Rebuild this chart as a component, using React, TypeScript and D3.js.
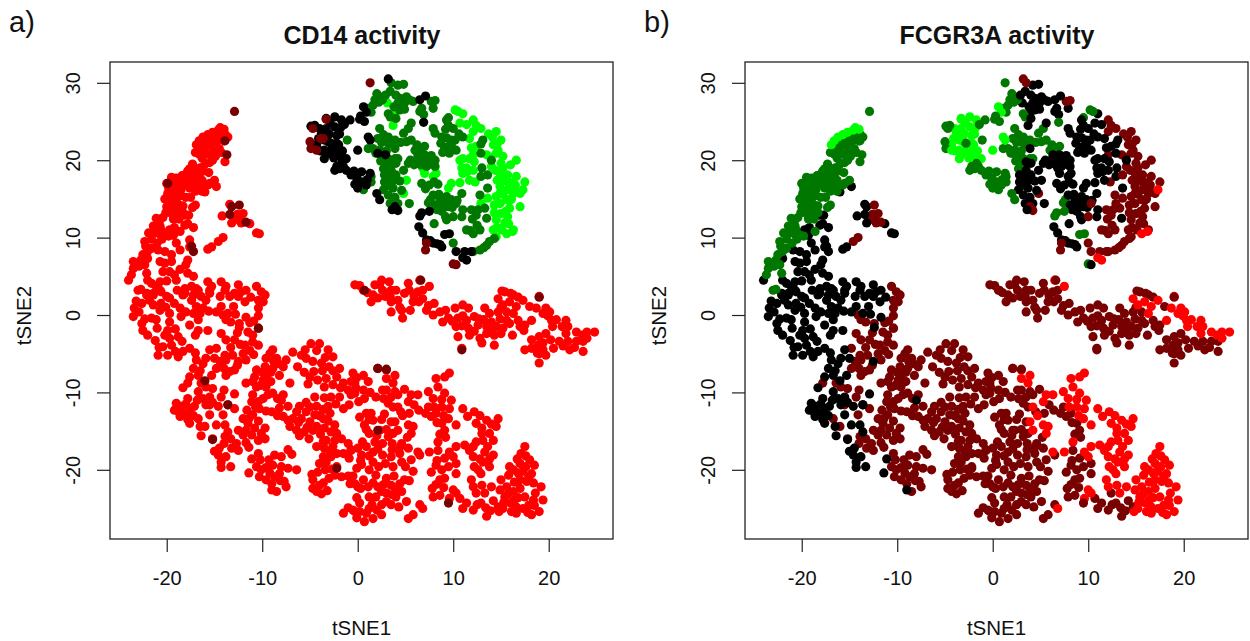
import React, { useEffect, useRef } from 'react';
import * as d3 from 'd3';

// tSNE coordinates, split by (CD14 level, FCGR3A level)
// levels: r = red, d = dark red, k = black, g = dark green, b = bright green
const redBright = [[-14,24],[-14.6,23.9],[-15.2,23.6],[-15.7,23.3],[-16.6,22.5],[-16.9,22],[-16.2,23],[-14.4,24.2]];
const redGreen = [[-13.9,23.4],[-14.3,23.3],[-14.8,23.2],[-15.2,23],[-15.7,22.8],[-16.2,22.4],[-13.6,23],[-14,22.5],[-14.6,22.6],[-15,22.3],[-15.5,22],[-16,21.8],[-16.5,21.5],[-17,21],[-14.5,21.5],[-15.2,21.2],[-15.8,20.8],[-16.3,20.3],[-14.9,20.5],[-15.5,19.7],[-16,19.5],[-14.3,21],[-13.9,19.8],[-16.6,20.8],[-15.2,20],
  [-17.3,19.5],[-17.6,18.9],[-18,18.2],[-17.4,18.2],[-16.8,18.4],[-16.2,18.6],[-15.6,18.4],[-18.1,17.5],[-17.5,17.4],[-16.9,17.6],[-16.3,17.4],[-17,16.8],[-16.4,16.5],[-15.7,16.8],[-17,16],[-16.3,16],[-15.5,17],[-15,17.4],
  [-19.5,17.8],[-19,17.7],[-20,17],[-19.4,17],[-18.8,16.8],[-18.5,16.2],[-19.2,16.2],[-19.9,15.7],[-19.3,15.6],[-20.2,15],[-19.6,14.8],[-19,14.7],[-20,14],[-19.4,14],[-18.7,14.2],[-18.3,14.1],[-20.1,13.2],[-19.5,13.1],[-18.9,13.3],[-18.3,13.2],[-19.3,12.4],[-18.7,12.4],[-18,15.2],[-17.5,15.2],[-17.3,13.9],[-17,14.2],
  [-21.1,12.5],[-21.4,11.5],[-20.7,11.5],[-21.9,10.6],[-21.3,10.6],[-20.7,10.4],[-20.5,9.8],[-20.1,10.3],[-22.3,9.5],[-21.6,9.8],[-21.6,8.6],[-22,8.2],[-22.5,7.8],[-22.7,7.1],[-22.3,6.5],[-22.1,5.4],[-23.5,6.9],[-23.5,6],[-23.7,5.2],[-23,3.2],[-22.7,3.3],[-19.8,10.2],[-18.6,10.8],[-20.6,11],[-21,9.3],
  [-17.8,18.6],[-17.1,19],[-16.5,19],[-18.4,18],[-16.6,17.9],[-18.7,17.2],[-18,16.9],[-17.6,16.4],[-19.8,16.4],[-19.7,13.7],[-19.1,15.1],[-18.6,15.4],[-19,13.8],[-20.8,12],[-20.4,12.6],[-21,10.9],[-22.2,8.9],[-22.9,6.3]];
const redBlack = [[-18.2,12.9],[-17.7,12.9],[-17.8,11.8],[-17.2,11.3],[-18.1,11.6],[-19.2,11.3],[-19.7,11],[-17.6,9.7],[-19,9.3],[-18.6,8.4],[-17.6,8.8],[-19.3,10.3],[-20.9,8.4],[-20.2,8.2],[-19.5,7.8],[-20.7,6.9],[-20.2,6.7],[-19.5,6.9],[-17.8,7.1],[-18,6.5],[-22,7.3],[-19.7,5.6],[-20.4,5.6],[-18.6,5.9],[-17.8,5.4],[-17.2,5],[-19.2,5.2],[-19,4.5],[-22,4.5],[-21.6,4.1],[-20.7,4.3],[-20,4.4],[-21.1,3.7],[-24,4.5],[-22.1,2.8],[-21.4,2.6],[-20.6,3],[-18.1,3.4],[-17.4,3.7],[-16.9,3.4],[-18.3,2.6],[-17.2,2.6],[-15.7,4.3],[-15.3,3.7],[-14.3,4.3],[-13.8,3.7],[-12.5,3.9],[-12.9,2.8],[-12.2,3],[-15.5,2.8],[-13.4,2.4],[-11.7,3.2],
  [-14.8,16.6],[-16,15.9],[-13.4,14.3],[-14.2,12.8],[-13.2,11.9],[-11.3,11.8],[-10.6,10.6],[-10.3,10.5],[-15.3,8.8],[-15.7,8.5],
  [-23.5,-0.2],[-23.4,0.9],[-23.2,1.8],[-22.6,1.5],[-22.1,2.6],[-21.4,2.8],[-20.7,3.2],[-20,2.4],[-19.7,2.2],[-21.4,1.3],[-20.6,1.5],[-20.7,0.6],[-21.6,-0.4],[-21.1,-0.6],[-19.2,1.5],[-18.6,0.9],[-19.7,0.2],[-19.7,-0.9],[-18.5,-0.2],[-18.1,2.8],[-17.4,1.9],[-16.9,1.1],[-16.5,0.2],[-16.7,-0.6],[-17.6,-1.3],[-16.2,0.9],[-15.9,1.9],[-16.7,3.2],[-15.5,3.2],[-14.8,0.4],[-14.3,1.1],[-13.9,3.2],[-13,1.1],[-11.8,1.7],[-11.7,-0.3],[-12.5,2.4],[-22.6,-1.1],[-22.5,-2],[-22,-2.6],[-20.2,-2.6],[-19.9,-2],[-19.7,-3],[-19.5,-3.9],[-20.4,-4.1],[-20.9,-5.2],[-19.9,-5.2],[-18.8,-5.4],[-18.4,-3.4],[-18.3,-4.7],[-17.6,-4.3],[-16.7,-2],[-15.7,-2],[-16.9,-5.8],[-15.9,-5.6],[-15.5,-4.5],[-15,-5.6],[-17.2,-6.9],[-16.7,-7.8],[-17.6,-8],[-15.3,-7.8],[-18.3,-9.4],[-16.7,-9.9],[-17.8,-10.8],[-19,-11.4],[-19.2,-12.3],[-18.5,-11.8],[-18.6,-13.1],[-17.6,-14],[-17.6,-12.1],[-16.2,-10.8],[-15.5,-10.6],[-14.6,-11.8],[-15.5,-12.9],[-13.6,-11.6],[-12.9,-10.2],[-16.5,-14.4],[-16.4,-15.6],[-14.8,-14.2],[-13.9,-14.2],[-13.6,-15.1],[-14.5,-17.2],[-14.6,-18.1],[-14.3,-19],[-13.8,-18.3],[-13.3,-19.6],[-11.1,-18.6],[-11.4,-20.4],[-9,-22.6],[-8,-11],[-12.5,-6],[-12.4,-1.6],[-18,-12.7],[-17.1,-11.8],[-18.1,-12.9],
  [-22.9,0.4],[-22.3,-0.5],[-21.8,1.9],[-20.1,1],[-21,-1.7],[-19.1,-1.8],[-18.8,-2.8],[-18,0.4],[-17.2,0.2],[-17,-2.6],[-15.6,0.5],[-13.6,0.2],[-12.8,0.1],[-14.4,2.4],[-11.2,2.3],[-16.4,2.4],[-18.9,3.2],[-21.2,-3.3],[-20.8,-4.2],[-19.1,-4.7],[-17,-4.9],[-16.2,-6.3],[-16.5,-7.2],[-18.7,-12.6],[-18,-11.5],[-17.2,-13],[-16.8,-11],[-15.9,-11.6],[-15.2,-11.3],[-17.8,-13.5],[-14.3,-19.7],[-15,-17.6]];
const redDark = [[-12.9,12.3],[-12.4,12.5],[-12,13.1],[-14.1,10],[-14.6,9.5],[-12.6,13],[-12.2,11.9],
  [-10.6,3.7],[-10.1,3],[-9.7,2.6],[-10.4,1.9],[-9.9,1.7],[-10.4,0.9],[-10.4,-0.1],[-14.1,0],[-13.8,-0.6],[-12.4,-1.1],[-10.4,-1.7],[-11.5,-2.2],[-14.3,-2.4],[-13.8,-3.2],[-12.9,-3.2],[-11,-2.6],[-11,-3.5],[-11.8,-3.9],[-10.4,-3.9],[-14.8,-4.3],[-12,-5],[-13.1,-5.2],[-13.9,-5.2],[-13.8,-5.8],[-11.7,-5.8],[-14.8,-6.9],[-14,-6.9],[-12.9,-7.1],[-13.8,-7.8],[-8.9,-4.5],[-9.6,-5.6],[-8.5,-5.6],[-7.5,-5.8],[-9.7,-6.7],[-10.6,-7.1],[-8.9,-6.9],[-7.8,-6.7],[-8.2,-7.8],[-9.6,-7.8],[-10.8,-8],[-9.9,-8.4],[-11.7,-8.8],[-10.6,-9.3],[-9.6,-9.3],[-7.1,-8.8],[-8.9,-10.1],[-7.8,-10.3],[-11,-10.3],[-9.9,-10.8],[-11.1,-11.2],[-7.3,-11.8],[-10.3,-12.1],[-9,-12.5],[-11,-12.9],[-12,-13.4],[-11.5,-14],[-12.5,-14.9],[-11.7,-14.9],[-11.1,-15.5],[-9.7,-14.6],[-9.7,-16],[-10.4,-16.2],[-12.7,-16.6],[-14,-16.6],[-15.2,-16],[-13.2,-17.2],[-12.5,-17.5],[-10.4,-17.9],[-8.7,-18.1],[-7.3,-17.4],[-8.9,-19.4],[-8,-19.6],[-7.3,-19.8],[-6.4,-20],[-10.6,-19.6],[-10.3,-20.9],[-9.6,-21.3],[-8.7,-20.9],[-7.7,-21.5],[-7.5,-22.2],[-8.5,-22.8],[-16,-14.4],[-16.7,-13.4],[-14.1,-12.9],[-12.9,-12.1],[-14.3,-10.6],[-15.5,-11.6],[-17.8,-8.8],[-16.4,-8.8],[-15.2,-9.5],[-14,-9.7],[-15.9,-9.3],
  [-6.8,-4.8],[-4.9,-3.7],[-4,-3.7],[-3.1,-4.5],[-5.4,-5.6],[-4.7,-6],[-3.8,-6.2],[-3,-6.7],[-6.3,-6.7],[-1.9,-6.9],[-5,-8],[-4.2,-8.4],[-3.3,-8.2],[-2.2,-8],[-3.5,-9.3],[-1.5,-8.8],[-1,-9.7],[-0.3,-10.1],[-1.9,-10.6],[-0.9,-11.6],[-1.5,-12.1],[-4.5,-10.6],[-4.3,-11.8],[-3.1,-11.8],[-6.1,-11.8],[-5.4,-12.5],[-4.5,-12.9],[-3.6,-13.4],[-2.9,-12.7],[-7.8,-13.1],[-6.8,-13.4],[-5.9,-13.4],[-5,-13.8],[-7.1,-14.4],[-6.4,-14.9],[-5.6,-15.1],[-4.3,-14.4],[-3.5,-14.6],[-2.4,-14.2],[-2.2,-15.3],[-1.7,-16],[-3.3,-16.2],[-4.3,-17],[-3.5,-17.2],[-2.6,-17],[-1.5,-17.9],[-0.7,-17.4],[0,-17.2],[-3.6,-18.3],[-2.8,-18.3],[-4,-19.2],[-2.2,-19.6],[-4.2,-20.3],[-3,-21.1],[-1.7,-20.9],[-4.7,-21.3],[-4,-22],[-4.7,-22.4],[-3.8,-23.1],[-0.8,-21.8],[0,-22.2],[-1.5,-25.6],[-0.3,-25.4],
  [-0.3,3.9],[0.6,3.2],[1.8,3.9],[2.5,4.5],[3.3,4.3],[3.5,3.2],[1.6,2.6],[1.4,1.7],[2.6,3.2],[4.2,1.9],[3.5,1.7],[3.5,0.4],[4.6,0.6],[4.7,-0.4],[5.3,4.1],[5.4,3.2],[6.3,3],[6.8,3.2],[6.8,2.1],[5.8,1.7],[8,1.5],[7.2,0.6],[7.9,0],[8.6,0.4],[9.5,-0.4],[10.2,0.9],[11,1.3],[11.6,0.9],[10.5,-0.4],[10.3,-1.5],[11.4,-0.7],[12.2,-0.2],[11.6,-1.7],[12.6,-1.3],[13.5,-1.5],[10.5,-2.8],[10.9,-4.3],[11.7,-2.6],[12.8,-3],[13.5,-2.4],[14.3,-2.6],[14.3,-3.9],[13.8,0.2],[14.7,0.4],[14,-0.9],[15.2,-1.7],[14.5,-1.5],[15.6,0.4],[15.9,-1.1],[15.4,3],[16.3,2.6],[17,-1.5],[17.5,-1.3],[16.2,-2.6],[18,1.1],[17.5,-4.5],[18.2,-4.3],[18.9,-3.9],[19,-2.8],[19.7,-2.4],[19,-5],[19,-6.2],[19.7,-5.2],[20.5,-4.3],[21.1,-3.4],[22,-3.4],[22.2,-4.5],[22.9,-3.4],[23.6,-4.7],[23.6,-3.4],
  [-0.5,-7.5],[0.6,-7.8],[-0.3,-8.8],[0.6,-9.7],[-0.7,-10.3],[0.7,-10.8],[1.9,-10.6],[2.6,-9.7],[3.5,-10.6],[3.9,-9.9],[4.9,-9.6],[3.7,-11.9],[5.9,-11.6],[7.4,-11.9],[7.7,-13.1],[8.2,-12.7],[8.8,-14],[9.1,-14.9],[0.9,-12.7],[1.4,-12.7],[0.7,-14.2],[1.6,-13.6],[2.3,-14.9],[3.5,-13.8],[5.4,-12.7],[3.7,-15.3],[3.2,-15.7],[1.2,-15.3],[1.8,-16.4],[4.6,-16.6],[5.3,-17.2],[1.6,-17.7],[2.6,-18.1],[3.5,-18.3],[4.4,-17.9],[5.6,-18.7],[-0.7,-17.5],[1.6,-19],[3.7,-19.6],[-0.1,-19.8],[1.2,-20],[5.8,-20.2],[4.9,-21.3],[0.6,-21.3],[-0.3,-21.8],[3,-21.1],[1.1,-22.2],[2.1,-22.2],[3.5,-22],[4.4,-21.8],[1.9,-23.5],[3,-23],[4,-23.5],[5.1,-24.1],[1.2,-23.5],[2.5,-24.5],[3.5,-24.5],[0.2,-25.4],[0.9,-25.6],[1.6,-26.3],[0.7,-26.7],[-0.5,-25.2],[5.3,-26.3],[5.8,-25.8],[6.5,-24.5],[7.9,-23.5],[8.6,-23.3],[8.6,-21.3],[9.1,-21.1],[8.8,-20],[9.1,-18.5],[8.2,-19.4],[10.3,-20.5],[10.3,-19.2],[6.5,-18.1],[11.4,-24.3],[10.7,-23.7],[12.1,-25.2],[12.9,-24.3],[13.5,-26],[14.2,-24],[14.7,-24.8],[12.4,-23]];
const redDarkInner = [[-13.3,-0.9],[-12.6,-2.3],[-11.3,-1],[-10.9,-0.8],[-12.3,-3.8],[-13.3,-4.2],[-11.3,-4.6],[-10.9,-5.1],[-12.6,-6.5],[-14.4,-6],[-13.4,-7.3],[-9.2,-5],[-8.8,-6],[-9.1,-7.4],[-8.3,-6.3],[-10,-7.4],[-10.2,-9.1],[-11,-8.6],[-9.1,-8.6],[-8.4,-10.8],[-9.4,-10.3],[-10.4,-11.2],[-10.7,-11.9],[-11.6,-12.3],[-9.6,-12.4],[-8.2,-12],[-8.4,-13],[-11.4,-13.4],[-10.4,-13.7],[-10.8,-14.6],[-10.1,-15.3],[-12,-15.5],[-13.3,-16],[-13.9,-15.7],[-11.7,-16.5],[-11.4,-17.1],[-10.2,-18.7],[-9.3,-18.7],[-9.6,-19.7],[-9.2,-20.4],[-10.1,-20],[-8.2,-20.5],[-8.1,-21.4],[-9,-21.8],[-6.9,-18],[-8,-18.3],
  [-5.5,-4.5],[-5.9,-5.2],[-4.3,-4.6],[-2.6,-5.4],[-3.4,-5.5],[-5.6,-7.4],[-4.6,-7.3],[-3.7,-7.2],[-2.6,-7.2],[-5.2,-8.9],[-2.6,-9],[-1.8,-9.4],[-0.7,-8.6],[-2.8,-10.6],[-3.5,-10.7],[-5.4,-11.3],[-5,-11.9],[-3.6,-12.2],[-2.3,-11.5],[-6.4,-12.5],[-4,-13],[-3.1,-13.7],[-7.3,-13.6],[-6.2,-13.9],[-5.3,-14.5],[-4.7,-14.9],[-3.9,-15.4],[-2.8,-15.1],[-5.1,-16],[-6.1,-15.6],[-3.6,-16.3],[-2.4,-16.2],[-1,-16.6],[-2.9,-17.6],[-2.2,-17.9],[-0.9,-18.5],[0.4,-18.1],[-3.3,-19],[-3.4,-20],[-2.7,-19.9],[-4.8,-20.6],[-3.6,-21.7],[-2.4,-20.7],[-1,-20.8],[-4.3,-22.8],[-3.2,-22.7],[-0.1,-23.6],[-1,-24.9],
  [-0.1,-8.1],[1.1,-8.6],[-0.2,-9.4],[1.3,-10],[0.1,-11.2],[2.7,-10.8],[3,-9.7],[4.2,-10.3],[3.2,-11.4],[4.5,-12.5],[6.4,-12.3],[7.1,-12.7],[8.3,-13.9],[8.6,-15.4],[9.2,-15.8],[1.2,-13.5],[0.2,-13.2],[2.5,-13.5],[3,-14.8],[2.8,-12.8],[0.9,-14.8],[2,-15.6],[3.6,-16.6],[2.6,-16.6],[5.2,-15.8],[4.4,-17.1],[3.6,-17.4],[0.9,-17],[0.5,-16.4],[2.1,-17.3],[1.2,-18.2],[0.3,-18.8],[2.9,-19.2],[4.6,-19],[5,-19.6],[2.2,-19.6],[0.4,-19.3],[1.9,-20.7],[3.8,-20.8],[5.4,-21.4],[0.3,-22.4],[-0.5,-20.8],[1.6,-21.7],[2.7,-21.9],[4,-22.5],[2.5,-22.8],[3.6,-23.2],[4.6,-22.8],[1.5,-24.5],[2,-25.2],[3,-24.1],[4.3,-24.8],[0.2,-24.3],[1.2,-25],[-0.1,-26.2],[2.5,-25.8],[7.8,-22.4],[8.2,-21.9],[8.4,-17.5],[8.3,-18.8],[9.5,-19.6],[7.7,-20.3],[9,-22.3],[11,-25],[13.4,-24.9],[13.9,-25.3],[12.5,-24.5],
  [0.2,3.8],[1,2.9],[2.1,2.2],[2.9,2.4],[2.3,3.9],[3.4,2.4],[4,3.2],[4.9,2.8],[5.9,2.5],[4.4,1],[5.5,0.6],[6.4,1.7],[7.4,1.2],[8.9,-0.9],[9.2,0.6],[9.9,-0.8],[11,-0.1],[12.7,-0.5],[10.9,-1.4],[12.2,-2.1],[13.2,-0.6],[13,-3.6],[14.9,-0.5],[14,-2],[15,-2.4],[13.3,0.9],[15,1],[15.6,-0.7],[15.1,3.1],[16,2.8],[16.8,2.3],[17.4,-2],[16.8,-0.7],[18.8,-4.9],[19.4,-3.6],[20.2,-3.2],[18.2,-3.2],[19.4,-4.5],[21.5,-4],[22.7,-4.2]];
const redRed = [[6.5,4.5],[7.5,3.7],[14.7,2.1],[15.2,1.3],[15.9,1.7],[16.6,1.1],[17.3,1.9],[19,2.4],[18.7,0.9],[20.1,0.4],[18.2,-0.7],[19.4,0.2],[20.3,-0.7],[20.4,-1.5],[21.8,-0.7],[22,-1.5],[21.8,-2.4],[22.9,-2.2],[24,-2.2],[24.8,-2.2],[24,-3],[19.7,0.9],[16.3,0.2],[19.9,-0.1],[21.4,-1.5],[20.8,-0.6],[23.5,-2.6],
  [2.1,-6.9],[3,-7.1],[3.9,-7.8],[3.7,-8.8],[5.6,-10.3],[6.3,-10.3],[5.3,-11.2],[4.2,-11.9],[4.7,-13],[3.9,-13.8],[5.3,-14.2],[5.8,-14.4],[5.6,-15.3],[4.2,-14.9],[9.6,-7.5],[9.1,-8],[8.2,-8.2],[8.4,-9.3],[7.4,-9.9],[7.9,-10.8],[9.1,-10.1],[9.8,-11],[8.8,-11.9],[9.6,-12.1],[9.5,-13.4],[10.3,-14.2],[11,-12.1],[12.2,-12.5],[11.5,-13.1],[12.4,-14],[13.5,-13.6],[14.7,-13.4],[14.5,-14.4],[13.8,-15.3],[13.1,-16.2],[14.2,-16.2],[12.4,-16.4],[11.2,-16.8],[10.3,-17],[9.6,-17.7],[8.4,-16.4],[7.5,-17.7],[10,-18.3],[12.1,-17],[13.3,-17.7],[14.2,-18.1],[12.1,-18.3],[12.2,-19.6],[13.1,-19],[13.8,-19.6],[12.9,-20.5],[11.9,-21.3],[12.1,-22.2],[13,-22],[10,-22.6],[9.6,-23.7],[10.3,-23],[13.3,-23],[14,-22.2],[15,-21.3],[15.6,-22.2],[15.9,-19.6],[16.3,-20],[17,-19.2],[17.5,-17],[17.1,-17.9],[18,-18.7],[18.5,-19.4],[17.3,-20.2],[18.2,-20.5],[17,-21.3],[17.7,-21.5],[19.2,-22.2],[16.3,-22.8],[15.4,-23.5],[17.5,-23.5],[17,-22.4],[18.4,-23.9],[19.4,-23.9],[16,-24.3],[16.6,-24.8],[17.3,-25],[18.2,-25.8],[19,-25.4],[15.2,-25],[16.1,-25.4],[16.6,-25.6],[18.5,-24.6],[6.8,-25],[6.3,-17.7],
  [12.8,-13],[13,-14.6],[14,-14.1],[13,-15.3],[13.6,-17],[11.7,-17.5],[12.8,-18.6],[13.8,-18.6],[12.6,-20],[16.7,-18.6],[17.6,-18.2],[16.8,-20.4],[17.6,-19.6],[17.9,-20.9],[16.4,-21.6],[15.8,-20.7],[18.4,-21.7],[18.6,-23],[16.8,-23.6],[17.9,-24.6],[15.7,-23.2],[14.9,-22.6],[16.4,-23.9],[15.3,-24.2],[14.8,-25.4],[17.8,-25.5],[8.8,-10.9],[8,-11.9],[9,-13],[3,-8.2]];
const darkGreen = [[-12.9,26.3],[-13.9,22.5],[-13.7,20.7],[-19.9,17],[-4.7,24.1],[-5,22.4],[-4.9,21.5],[1.3,30],[10,6.6]];
const darkBlack = [[-17.4,8.9],[-17.2,8.2],[-13.2,14],[-13.4,13],[10.3,6.5],[-16,-8.5],[-13.6,-11.6],[-15.2,-16.1]];
const darkDark = [[-12.4,14.2],[-11.7,12],[7.1,8.4],[7.2,9.3],[6.6,4.5],[0.7,3.2],[19,2.3],[-10.4,-1.7],[2.1,-6.9],[3,-7],[-2.2,-19.8],[2.1,-14.9],[10.9,-4.5],[9.5,-24.3]];
const darkBright = [[-3.3,25.3],[-3.9,22.8],[-3.6,22.8],[-4.3,21.3]];
const blackBright = [[-2.4,25.6],[-3.3,25.4],[-1.7,25.2],[-4,24.1],[-3.3,24.1],[-2.4,24.3],[-4.1,22.8],[-3.5,22.6],[-2.2,23.2],[-2.2,22.2],[-3.5,21.3],[-2.2,21.1],[-3.5,20.2],[-1.9,20.5],[-1.2,20.2],[-3,23.4],[-2.8,20.8],[-3.8,23.5],[-2.7,21.6],[0.6,26.9],[0,21.3],[1.1,23],[-1.8,24.2],[-2.9,24.9],[-1.9,23.4],[-4.3,22],[-3.1,22.4],[-2,22],[-2.5,20.3],[-1.6,21.2],[-3,21],[-3.9,21.2],[0.9,26.2],[1.3,22.6]];
const blackGreen = [[-4.5,24.5],[-4.9,24.4],[-0.8,25.2],[-1.4,24.6],[-2.8,22.2],[-2.2,19.2],[-1.7,19.6],[-2.4,18.7],[-1.2,18.7],[-0.7,18.1],[-0.1,17.7],[0.4,18.5],[1.3,18.3],[0.4,17.2],[0,16.4],[0.9,16.8],[0.2,25.3],[0.7,25],[6.9,24.9],[2,15.7],[2.3,14.9],[2.9,20.7],[2.1,20.9],[7.5,13.4],[6.5,12.8],[9.6,10.5],[-1.9,18.9],[-1.5,19.2],[-0.4,18.6],[1,17.5],[-0.3,16.9],[0.3,25.7],[6.7,13.2],[9.1,10.4]];
const blackDark = [[3.2,30.5],[4.2,13.5],[10.3,8.2],[11.2,8.2],[11.9,8.2],[3.9,14]];
const blackBlack = [[6.5,27.8],[7.1,28.3],[3.6,13.6],[6.4,11.4],[6.8,10.6],[7.2,9.7],[7.9,9.3],[8.8,8.8],[8.3,9.2],[8.6,9.1],[7.6,9.6]];
const blackRed = [[11.4,7.1],[11,7.4]];
const greenGreen = [[-1.1,22.6],[1.4,17.9],[1.4,17.2],[0.6,16.2],[2,28.6],[1.8,27.8],[2.3,28.2],[1.6,27.1],[1.1,26.7],[3.2,26],[3.4,25.6],[5.3,24.1],[4.8,23.5],[2.3,24.1],[2.7,23.3],[2.1,22.8],[3.2,23],[3.9,22.6],[5.1,22.4],[5.6,22.6],[1.1,21.5],[1.6,21.5],[2.3,21.3],[2.7,20.7],[3.2,20.2],[3.9,20.2],[4.2,20.2],[3,19.6],[2.7,18.9],[3.5,16.6],[6,21.3],[6.5,21.3],[7,21.8],[7.4,14.5],[9.5,25.5],
  [2.2,27.5],[2.6,27.8],[1.4,26.2],[2.9,22.5],[2.5,22.3],[3.3,22.1],[4.5,22.3],[1.9,20.9],[3,21.2],[3.4,19.1],[2.4,19.9],[6.2,22],[7.6,14.9]];
const greenBlack = [[4.2,29.7],[4.8,29.8],[2.9,28.4],[4,28.4],[4.4,28],[5.1,28.2],[5.8,27.6],[4.2,27.4],[4.9,27.4],[4.4,26.5],[4,25.4],[7.9,26.7],[6.7,26.7],[6.9,25.9],[6.5,26.3],[5.6,24.8],[3.9,21.5],[3.5,19.8],[4,19.6],[2.8,18.1],[3.4,18.1],[4,18.1],[2.8,17.2],[3.7,17.4],[4.8,18.7],[5.3,19.6],[2.7,16.2],[3.2,15.5],[3.7,16.4],[3.4,14.4],[4.2,14.4],[5.4,14.4],[5.5,20],[6.1,20],[7.4,20],[8.1,20],[6.3,20.7],[7,20.7],[7.2,19.2],[8.1,19.2],[6.7,17],[7.5,16.8],[8.4,16.9],[10.9,15.7],[7.9,15.5],[8.6,15],[9.3,15.3],[9.8,14.9],[8.9,14.4],[8.1,14.2],[9.5,14],[8,11.8],[9.2,12.7],[9.3,12.3],[11,13.6],[10.9,12.7],[9.3,25.2],[9.5,24.5],[7.9,24.1],[8.1,23.5],[8.8,23],[9.8,22.6],[9.1,21.5],[9.8,22],[10.2,22.6],[9.6,20.9],[10,24.1],[11,23],[13.1,22.6],[12.9,20.9],[13,19],[12.9,17.9],[14,20],[13.6,16.4],[13.5,12.5],
  [3.4,28.9],[4.7,27.9],[5.4,27.8],[3.8,26.9],[4.9,26.6],[3.5,18.7],[3.1,17.6],[4.4,17.3],[3.3,16.9],[4.6,16.1],[3.9,15.2],[5.9,19.4],[6.7,20.1],[7.7,20.6],[6.6,19.4],[7.7,19.5],[7.1,16.3],[8,17.2],[8.5,15.6],[9,14.9],[8.3,13.6],[8.8,13.4],[9.9,13.9],[10.4,14.8],[9.2,24],[8.7,22.2],[9.3,22.9],[9.5,21.8],[8.9,21],[10.6,23.4],[10.3,21.3],[12.9,22.1]];
const greenDark = [[3.5,30],[8.1,27.7],[7.7,27.6],[10.3,14.4],[10,12.7],[11.9,13.6],[12.4,12.9],[11.4,11],[12.1,10.5],[12.8,11],[10,9.3],[12.8,8.4],[13.5,9],[14.3,9.9],[13.6,18.1],[12.8,15.5],[13.3,13.8],[11.8,10.9],[12.5,11.6],[13.2,8.7],[12.1,8.2],[13.8,9.5],[12.6,13.6],[12,12.4]];
const brightGreen = [[10.5,26.3],[10.2,26.5]];
const brightBlack = [[3.1,27.4],[4,26.3],[3.7,24.5],[5.1,17.4],[5.8,19.8],[7,18.3],[8.2,18.3],[9.5,16.4],[9.8,17],[10.7,17.1],[11,26],[10.7,24.8],[11.7,22.8],[12.4,21.8],[11,20.2],[11.7,20.2],[10.7,20],[11.4,19],[11,18.3],[12.1,18.7],[11.7,17.4],[11.4,24.6],[11.9,21.6],[11.5,18.5],[12.2,19.8],[10.9,19],[6.8,19],[7.9,17.9]];
const brightDark = [[4.8,15.7],[12.1,25.2],[12.4,24.5],[12.1,23.7],[12.9,24.1],[13.7,23.4],[14.5,23.7],[15,22.6],[14.2,22],[14.5,20.9],[15.2,20.5],[16.6,20],[13.5,20.7],[12.1,20.7],[14,19.2],[14.9,18.3],[15.7,18.1],[16.6,17.9],[17.5,17.2],[17,15.7],[16.3,15.7],[15.7,16.2],[14.9,16.6],[14.5,15.3],[15.6,14.9],[14.9,14.4],[17,14],[15.9,13.8],[15,13.1],[15.7,12.7],[14.5,12.3],[15.4,11.9],[16.3,11],[13.6,15.1],[12.9,14.4],[14.2,11],[14.5,10.1],[12.3,17.2],[16.2,17.1],[15.3,17.4],
  [14.1,23],[14.6,22.1],[14.7,21.3],[13.9,20.4],[15,19.6],[14.4,18.7],[15.2,19],[16,19.4],[15.7,17.2],[14.6,17.4],[16.4,16.4],[15.2,15.6],[16.1,15],[15.9,14.8],[14.3,14.2],[15.5,13.4],[14.3,13.2],[14.6,11.3],[15.1,11],[15.8,11.8],[16.5,16.8],[14.9,15.7]];
const brightRed = [[17.3,16.2],[15.6,10.5],[16.2,10.8]];

const levelColors = { r: '#ff0000', d: '#780000', k: '#000000', g: '#007800', b: '#00ff00' };

const cellGroups = [
  { cells: redDark, cd14: 'r', fcgr: 'd' }, { cells: redDarkInner, cd14: 'r', fcgr: 'd' },
  { cells: redRed, cd14: 'r', fcgr: 'r' }, { cells: redBlack, cd14: 'r', fcgr: 'k' },
  { cells: redGreen, cd14: 'r', fcgr: 'g' }, { cells: redBright, cd14: 'r', fcgr: 'b' },
  { cells: brightDark, cd14: 'b', fcgr: 'd' }, { cells: brightRed, cd14: 'b', fcgr: 'r' },
  { cells: brightBlack, cd14: 'b', fcgr: 'k' }, { cells: brightGreen, cd14: 'b', fcgr: 'g' },
  { cells: greenGreen, cd14: 'g', fcgr: 'g' }, { cells: greenBlack, cd14: 'g', fcgr: 'k' },
  { cells: greenDark, cd14: 'g', fcgr: 'd' }, { cells: blackBright, cd14: 'k', fcgr: 'b' },
  { cells: blackGreen, cd14: 'k', fcgr: 'g' }, { cells: blackDark, cd14: 'k', fcgr: 'd' },
  { cells: blackBlack, cd14: 'k', fcgr: 'k' }, { cells: blackRed, cd14: 'k', fcgr: 'r' },
  { cells: darkGreen, cd14: 'd', fcgr: 'g' }, { cells: darkBlack, cd14: 'd', fcgr: 'k' },
  { cells: darkDark, cd14: 'd', fcgr: 'd' }, { cells: darkBright, cd14: 'd', fcgr: 'b' },
];

const xTicks = [-20, -10, 0, 10, 20];
const yTicks = [-20, -10, 0, 10, 20, 30];
const xDomain = [-25.94, 26.73];
const yDomain = [-28.94, 32.69];
const font = '"Liberation Sans", Arial, sans-serif';

function drawPanel(svg, left, title, letter, key) {
  const top = 62, width = 503, height = 477;
  const x = d3.scaleLinear().domain(xDomain).range([left, left + width]);
  const y = d3.scaleLinear().domain(yDomain).range([top + height, top]);
  const g = svg.append('g');

  cellGroups.forEach(group => {
    g.append('g').selectAll('circle').data(group.cells).join('circle')
      .attr('cx', d => x(d[0]))
      .attr('cy', d => y(d[1]))
      .attr('r', 4.6)
      .attr('fill', levelColors[group[key]]);
  });

  g.append('rect')
    .attr('x', left).attr('y', top).attr('width', width).attr('height', height)
    .attr('fill', 'none').attr('stroke', '#222').attr('stroke-width', 1.3);

  const xAxis = g.append('g')
    .attr('transform', `translate(0,${top + height})`)
    .call(d3.axisBottom(x).tickValues(xTicks).tickSizeOuter(0).tickSize(13).tickPadding(19).tickFormat(d => String(d)));
  const yAxis = g.append('g')
    .attr('transform', `translate(${left},0)`)
    .call(d3.axisLeft(y).tickValues(yTicks).tickSizeOuter(0).tickSize(13).tickFormat(d => String(d)));
  xAxis.select('.domain').remove();
  yAxis.select('.domain').remove();
  g.selectAll('.tick line').attr('stroke', '#222').attr('stroke-width', 1.2);
  xAxis.selectAll('text').attr('font-size', 20).attr('font-family', font).attr('fill', '#111');
  yAxis.selectAll('text')
    .attr('font-size', 20).attr('font-family', font).attr('fill', '#111')
    .attr('text-anchor', 'middle').attr('dy', 0).attr('x', 0).attr('y', 0)
    .attr('transform', `translate(-30,0) rotate(-90)`);

  const label = (txt, px, py, size, weight = 'normal', rot = 0, anchor = 'middle') =>
    g.append('text').text(txt)
      .attr('transform', `translate(${px},${py}) rotate(${rot})`)
      .attr('text-anchor', anchor).attr('font-family', font)
      .attr('font-size', size).attr('font-weight', weight).attr('fill', '#111');

  label(title, left + width / 2 + 0.5, 44, 25, 'bold');
  label('tSNE1', left + width / 2, 635, 20.5);
  label('tSNE2', left - 79, top + height / 2 + 15, 20.5, 'normal', -90);
  label(letter, left - 101, 32, 29, 'normal', 0, 'start');
}

export default function App() {
  const svgRef = useRef(null);

  useEffect(() => {
    const svg = d3.select(svgRef.current);
    svg.selectAll('*').remove();
    drawPanel(svg, 110, 'CD14 activity', 'a)', 'cd14');
    drawPanel(svg, 745, 'FCGR3A activity', 'b)', 'fcgr');
  }, []);

  return (
    <svg
      ref={svgRef}
      width={1250}
      height={641}
      style={{ position: 'absolute', left: 0, top: 0, background: '#fff' }}
    />
  );
}
